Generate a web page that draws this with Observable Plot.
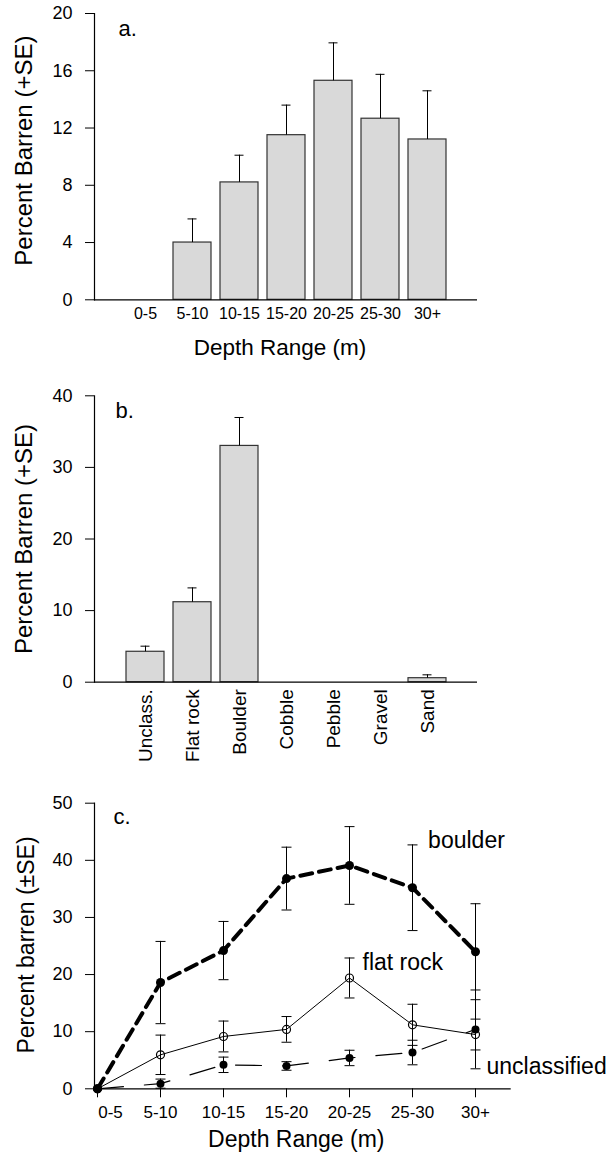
<!DOCTYPE html>
<html>
<head>
<meta charset="utf-8">
<script src="https://cdn.jsdelivr.net/npm/d3@7"></script>
<script src="https://cdn.jsdelivr.net/npm/@observablehq/plot@0.6"></script>
<style>
  html, body { margin: 0; padding: 0; background: white; }
  #root { width: 610px; height: 1155px; overflow: hidden; }
  #root svg { display: block; }
</style>
</head>
<body>
<div id="root"></div>
<script>
// ---------- Panel a: depth ranges ----------
const depthA = ["0-5", "5-10", "10-15", "15-20", "20-25", "25-30", "30+"];
const barrenA = [0, 4.0, 8.2, 11.5, 15.3, 12.65, 11.2];
const seA = [0, 1.65, 1.9, 2.1, 2.65, 3.1, 3.4];
const yTicksA = [0, 4, 8, 12, 16, 20];

// ---------- Panel b: substrate ----------
const substrate = ["Unclass.", "Flat rock", "Boulder", "Cobble", "Pebble", "Gravel", "Sand"];
const barrenB = [4.25, 11.17, 33.0, 0, 0, 0, 0.56];
const seB = [0.78, 2.0, 3.97, 0, 0, 0, 0.47];
const yTicksB = [0, 10, 20, 30, 40];

// ---------- Panel c: substrate x depth ----------
const depthC = ["0-5", "5-10", "10-15", "15-20", "20-25", "25-30", "30+"];
const boulderC = [0, 18.6, 24.2, 36.8, 39.1, 35.2, 24.0];
const boulderSE = [0, 7.2, 5.1, 5.5, 6.8, 7.5, 8.4];
const flatC = [0, 5.95, 9.16, 10.4, 19.4, 11.2, 9.5];
const flatSE = [0, 3.45, 2.7, 2.25, 3.5, 3.6, 2.7];
const unclassC = [0, 0.9, 4.2, 4.0, 5.4, 6.35, 10.4];
const unclassSE = [0, 0.8, 1.35, 0.75, 1.35, 2.15, 6.9];
const yTicksC = [0, 10, 20, 30, 40, 50];

const xTitle = "Depth Range (m)";
const yTitleAB = "Percent Barren (+SE)";
const yTitleC = "Percent barren (\u00B1SE)";

const font = '"Liberation Sans", Arial, Helvetica, sans-serif';
const baseStyle = {fontFamily: font, fontSize: "16px", color: "black", background: "white", overflow: "visible"};
const barFill = "#d9d9d9";
const barStroke = "#333";

// horizontal cap symbol for error bars (half-width = r)
const capSymbol = {
  draw(context, size) {
    const w = Math.sqrt(size / Math.PI);
    context.moveTo(-w, 0);
    context.lineTo(w, 0);
  }
};

const dataA = depthA.map((d, i) => ({cat: d, value: barrenA[i], se: seA[i]}));
const dataB = substrate.map((d, i) => ({cat: d, value: barrenB[i], se: seB[i]}));

const titleText = (txt, opts) => Plot.text([txt], {textAnchor: "middle", lineAnchor: "middle", ...opts});

function barPanel({data, yDomain, yTicks, height, marginTop, marginBottom, xAxis, extra, letter, letterDx, letterDy}) {
  return Plot.plot({
    width: 610, height,
    marginLeft: 94, marginRight: 133, marginTop, marginBottom,
    style: baseStyle,
    x: {domain: data.map(d => d.cat), padding: 0.2, inset: 19},
    y: {domain: yDomain},
    marks: [
      Plot.barY(data, {x: "cat", y: "value", fill: barFill, stroke: barStroke, strokeWidth: 1.2}),
      Plot.ruleX(data, {filter: d => d.se > 0, x: "cat", y1: "value", y2: d => d.value + d.se, stroke: "black", strokeWidth: 1}),
      Plot.tickY(data, {filter: d => d.se > 0, x: "cat", y: d => d.value + d.se, insetLeft: 14.5, insetRight: 14.5, stroke: "black", strokeWidth: 1}),
      Plot.ruleY([0], {stroke: "black", strokeWidth: 1.2}),
      Plot.frame({anchor: "left", stroke: "black", strokeWidth: 1.2}),
      Plot.axisY({ticks: yTicks, tickSize: 9, tickPadding: 13, fontSize: 18, label: null}),
      xAxis,
      Plot.text([letter], {frameAnchor: "top-left", dx: letterDx, dy: letterDy, textAnchor: "start", lineAnchor: "middle", fontSize: 22}),
      ...extra
    ]
  });
}

const chartA = barPanel({
  data: dataA, yDomain: [0, 20], yTicks: yTicksA,
  height: 370, marginTop: 13, marginBottom: 70.7,
  xAxis: Plot.axisX({tickSize: 0, tickPadding: 8, fontSize: 16, label: null}),
  letter: "a.", letterDx: 24, letterDy: 15,
  extra: [
    titleText(xTitle, {frameAnchor: "bottom", dx: -6, dy: 48, fontSize: 22.5}),
    titleText(yTitleAB, {frameAnchor: "left", rotate: -90, dx: -70, dy: -6, fontSize: 24})
  ]
});

const chartB = barPanel({
  data: dataB, yDomain: [0, 40], yTicks: yTicksB,
  height: 390, marginTop: 25.3, marginBottom: 78.3,
  xAxis: Plot.axisX({tickSize: 0, tickPadding: 7, tickRotate: -90, fontSize: 19, label: null}),
  letter: "b.", letterDx: 21, letterDy: 15,
  extra: [
    titleText(yTitleAB, {frameAnchor: "left", rotate: -90, dx: -70, fontSize: 24})
  ]
});

const seriesC = [
  {name: "boulder", values: boulderC, se: boulderSE},
  {name: "flat rock", values: flatC, se: flatSE},
  {name: "unclassified", values: unclassC, se: unclassSE}
];
const longC = seriesC.flatMap(s => depthC.map((d, i) => ({series: s.name, depth: d, value: s.values[i], se: s.se[i]})));
const ofSeries = name => longC.filter(d => d.series === name);
const at = (name, depth) => longC.filter(d => d.series === name && d.depth === depth);

const chartC = Plot.plot({
  width: 610, height: 395,
  marginLeft: 94, marginRight: 99.3, marginTop: 42.7, marginBottom: 66.7,
  style: baseStyle,
  x: {type: "point", domain: depthC, range: [94, 477.3], padding: 0},
  y: {domain: [0, 50]},
  marks: [
    Plot.ruleY([0], {stroke: "black", strokeWidth: 1.2}),
    Plot.frame({anchor: "left", stroke: "black", strokeWidth: 1.2}),
    Plot.line(ofSeries("boulder"), {x: "depth", y: "value", stroke: "black", strokeWidth: 4, strokeDasharray: "12,7"}),
    Plot.line(ofSeries("flat rock"), {x: "depth", y: "value", stroke: "black", strokeWidth: 1}),
    Plot.line(ofSeries("unclassified"), {x: "depth", y: "value", stroke: "black", strokeWidth: 1.2, strokeDasharray: "26,21"}),
    Plot.ruleX(longC, {filter: d => d.se > 0, x: "depth", y1: d => d.value - d.se, y2: d => d.value + d.se, stroke: "black", strokeWidth: 1}),
    Plot.dot(longC, {filter: d => d.se > 0, x: "depth", y: d => d.value + d.se, symbol: capSymbol, r: 5, fill: "none", stroke: "black", strokeWidth: 1}),
    Plot.dot(longC, {filter: d => d.se > 0, x: "depth", y: d => d.value - d.se, symbol: capSymbol, r: 5, fill: "none", stroke: "black", strokeWidth: 1}),
    Plot.dot(ofSeries("boulder"), {x: "depth", y: "value", r: 4.5, fill: "black", stroke: "none"}),
    Plot.dot(ofSeries("flat rock"), {x: "depth", y: "value", r: 4, fill: "none", stroke: "black", strokeWidth: 1.2}),
    Plot.dot(ofSeries("unclassified"), {x: "depth", y: "value", r: 4, fill: "black", stroke: "none"}),
    Plot.axisY({ticks: yTicksC, tickSize: 9, tickPadding: 13, fontSize: 18, label: null}),
    // tick marks only
    Plot.axisX({tickSize: 9, tickFormat: () => "", label: null}),
    // tick labels (first one nudged right, as in the original)
    Plot.axisX({ticks: depthC.slice(1), tickSize: 0, tickPadding: 17, fontSize: 17, label: null}),
    Plot.axisX({ticks: depthC.slice(0, 1), tickSize: 0, tickPadding: 17, dx: 13, fontSize: 17, label: null}),
    Plot.text(at("boulder", "25-30"), {x: "depth", y: "value", text: "series", dx: 15.6, dy: -47.3, textAnchor: "start", lineAnchor: "middle", fontSize: 23}),
    Plot.text(at("flat rock", "20-25"), {x: "depth", y: "value", text: "series", dx: 13, dy: -15, textAnchor: "start", lineAnchor: "middle", fontSize: 23}),
    Plot.text(at("unclassified", "30+"), {x: "depth", y: "value", text: "series", dx: 11, dy: 37.7, textAnchor: "start", lineAnchor: "middle", fontSize: 23}),
    Plot.text(["c."], {frameAnchor: "top-left", dx: 19, dy: 13.6, textAnchor: "start", lineAnchor: "middle", fontSize: 22}),
    titleText(xTitle, {frameAnchor: "bottom", dx: -6.6, dy: 51, fontSize: 23}),
    titleText(yTitleC, {frameAnchor: "left", rotate: -90, dx: -68, dy: -1, fontSize: 23})
  ]
});

const root = document.getElementById("root");
root.append(chartA, chartB, chartC);
</script>
</body>
</html>
